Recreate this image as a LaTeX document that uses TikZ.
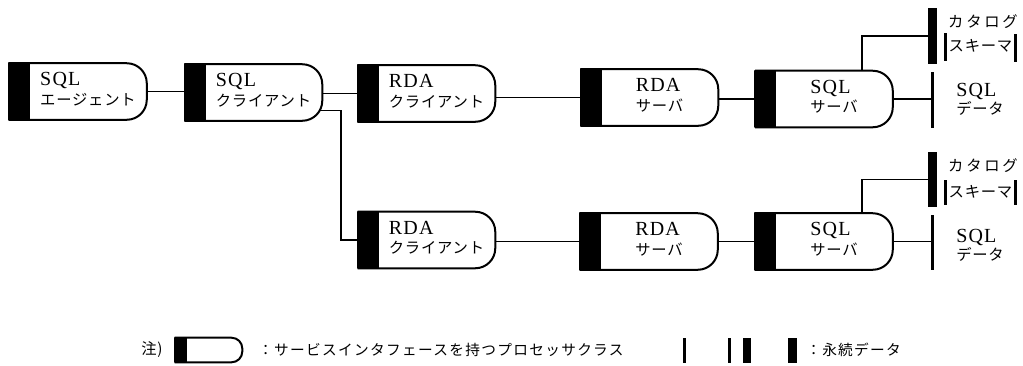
\documentclass[tikz,border=0pt]{standalone}
\usepackage{fontspec}
\setmainfont{Liberation Serif}
\newfontfamily\jp{Noto Sans CJK JP}[LetterSpace=5]
\newfontfamily\jpw{Noto Sans CJK JP}[LetterSpace=18]
\newfontfamily\jpl{Noto Sans CJK JP}[LetterSpace=9]
\newfontfamily\lat{Liberation Serif}[LetterSpace=6]
\usetikzlibrary{calc}
\newcommand\nt[2]{\hspace*{15pt}\begin{tabular}{@{}l@{}}{\lat\fontsize{15}{14.5}\selectfont #1}\\{\jp\fontsize{11.5}{14.5}\selectfont #2}\end{tabular}}
\newcommand\procdraw[1]{%
  \filldraw[outline] (#1.north west) rectangle ($(#1.south west)+(20,0)$);
  \draw[outline, rounded corners=15pt] (#1.north west) -- (#1.north east) -- (#1.south east) -- (#1.south west);
}
\tikzset{
  outline/.style={line width=1.5pt, line join=round},
  conn/.style={line width=1.4pt},
  procbox/.style={rectangle, inner sep=0pt, minimum width=102.75pt, minimum height=42pt, font=\fontsize{12}{14.5}\selectfont},
  vbar/.style={rectangle, fill=black, inner sep=0pt},
  lbl/.style={inner sep=0pt, font=\jp\fontsize{11.5}{14}\selectfont},
  lblw/.style={inner sep=0pt, font=\jpw\fontsize{11.5}{14}\selectfont},
  lgd/.style={inner sep=0pt, anchor=west, font=\jpl\fontsize{11}{12}\selectfont},
}
\begin{document}
\begin{tikzpicture}[x=0.75pt,y=-0.75pt]
\useasboundingbox (0,0) rectangle (1023,365);
% process nodes
\node[procbox] (N1) at (78,91.5) {\nt{SQL}{エージェント}};
\node[procbox] (N2) at (253.5,92.5) {\nt{SQL}{クライアント}};
\node[procbox] (N3) at (426.5,93.5) {\nt{RDA}{クライアント}};
\node[procbox] (N4) at (649.5,97.5) {\nt{RDA}{サーバ}};
\node[procbox] (N5) at (824,99) {\nt{SQL}{サーバ}};
\node[procbox] (N6) at (426.5,240) {\nt{RDA}{クライアント}};
\node[procbox] (N7) at (649,241.5) {\nt{RDA}{サーバ}};
\node[procbox] (N8) at (824,241.5) {\nt{SQL}{サーバ}};
\foreach \n in {N1,N2,N3,N4,N5,N6,N7,N8} {\procdraw{\n}}
% persistent data bars
\node[vbar, minimum width=6.75pt, minimum height=42pt] (C1) at (932.5,36) {};
\node[vbar, minimum width=6.75pt, minimum height=41.25pt] (C2) at (932.5,179.5) {};
\node[vbar, minimum width=2.6pt, minimum height=42pt] (D1) at (932.5,100) {};
\node[vbar, minimum width=2.6pt, minimum height=41.25pt] (D2) at (932.5,242.5) {};
\node[vbar, minimum width=2.6pt, minimum height=21pt] (S1L) at (945.5,47) {};
\node[vbar, minimum width=2.6pt, minimum height=21pt] (S1R) at (1015.5,47.5) {};
\node[vbar, minimum width=2.6pt, minimum height=19pt] (S2L) at (945.5,192.5) {};
\node[vbar, minimum width=2.6pt, minimum height=19pt] (S2R) at (1015.5,192.5) {};
% data labels
\node[lblw] (K1) at (983,22) {カタログ};
\node[lbl] (T1) at (980.5,46) {スキーマ};
\node[lblw] (K2) at (983,166) {カタログ};
\node[lbl] (T2) at (980.5,192) {スキーマ};
\node[anchor=west, inner sep=0pt] (Q1) at (956,101) {\begin{tabular}{@{}l@{}}{\lat\fontsize{15}{14.5}\selectfont SQL}\\{\jp\fontsize{11.5}{14.5}\selectfont データ}\end{tabular}};
\node[anchor=west, inner sep=0pt] (Q2) at (956,247) {\begin{tabular}{@{}l@{}}{\lat\fontsize{15}{14.5}\selectfont SQL}\\{\jp\fontsize{11.5}{14.5}\selectfont データ}\end{tabular}};
% connectors
\draw[conn] (N1.east) -- (N1.east -| N2.west);
\draw[conn] (N3.west) -- (N3.west -| N2.east);
\draw[conn] (N4.west) -- (N4.west -| N3.east);
\draw[conn] (N5.west) -- (N5.west -| N4.east);
\draw[conn] ($(N2.east)+(-2,18)$) -| ($(N6.west)+(-17,0)$) -- (N6.west);
\draw[conn] (N7.west) -- (N7.west -| N6.east);
\draw[conn] (N8.west) -- (N8.west -| N7.east);
\draw[conn] ($(N5.north)+(38,0)$) |- (C1.west);
\draw[conn] (N5.east) -- (N5.east -| D1.west);
\draw[conn] ($(N8.north)+(38,0)$) |- (C2.west);
\draw[conn] (N8.east) -- (N8.east -| D2.west);
% legend
\node[lbl] (NOTE) at (152,350) {注)};
\node[rectangle, inner sep=0pt, minimum width=50.25pt, minimum height=18pt] (LB) at (208.5,350) {};
\filldraw[outline] (LB.north west) rectangle ($(LB.south west)+(11,0)$);
\draw[outline, rounded corners=8pt] (LB.north west) -- (LB.north east) -- (LB.south east) -- (LB.south west);
\node[lgd] (LT1) at (258,350) {：サービスインタフェースを持つプロセッサクラス};
\node[vbar, minimum width=2.6pt, minimum height=19pt] (L1) at (684.5,350.5) {};
\node[vbar, minimum width=2.6pt, minimum height=19pt] (L2a) at (729.5,350.5) {};
\node[vbar, minimum width=6pt, minimum height=19pt] (L2b) at (747,350.5) {};
\node[vbar, minimum width=6.4pt, minimum height=19pt] (L3) at (792.5,350.5) {};
\node[lgd] (LT2) at (806,350) {：永続データ};
\end{tikzpicture}
\end{document}
